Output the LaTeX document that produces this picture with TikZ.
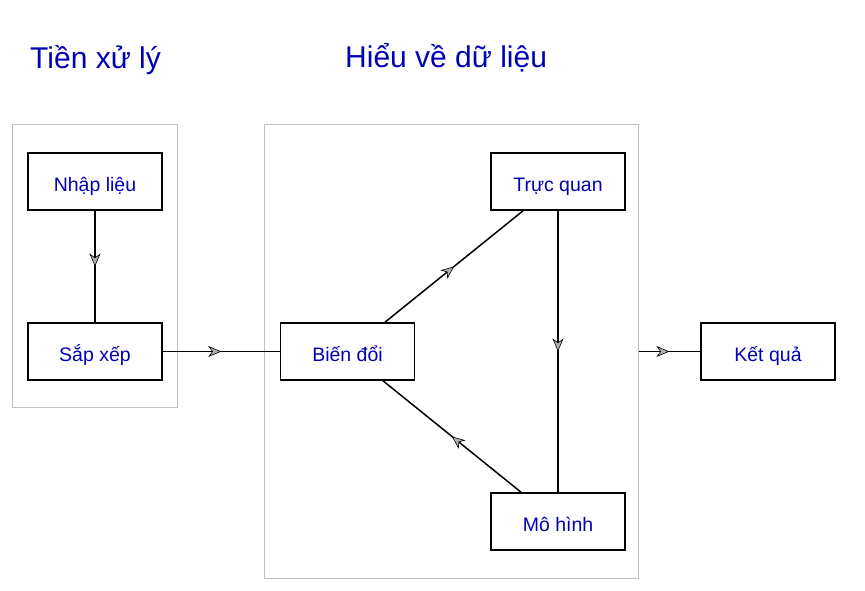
\documentclass[tikz,border=0pt]{standalone}
\usepackage{fontspec}
\setmainfont{Liberation Sans}
\usetikzlibrary{arrows.meta,decorations.markings}
\definecolor{textblue}{RGB}{0,0,180}
\definecolor{framegray}{RGB}{192,192,192}
\definecolor{tipgray}{RGB}{175,175,175}
\begin{document}
\begin{tikzpicture}[x=1pt, y=-1pt,
  box/.style={rectangle, draw, line width=1.6pt, minimum width=134pt, minimum height=57pt,
    text=textblue, font=\fontsize{19.5}{22}\selectfont, text height=19pt, text depth=0pt},
  frame/.style={rectangle, draw=framegray, line width=1pt},
  title/.style={anchor=base west, text=textblue, font=\fontsize{30}{34}\selectfont, inner sep=0pt},
  flow/.style={line width=1.5pt, postaction={decorate},
    decoration={markings, mark=at position 0.5 with {\arrow{Stealth[length=13pt, width=11pt, inset=4pt, fill=tipgray, line width=0.6pt]}}}}]
  \useasboundingbox (0,0) rectangle (865,591);
  % Frames
  \node (pre) [frame, minimum width=165pt, minimum height=282pt] at (94.5, 266) {};
  \node (und) [frame, minimum width=374pt, minimum height=453pt] at (451, 351.5) {};
  % Headers
  \node (tpre) [title] at (30, 69) {Tiền xử lý};
  \node (tund) [title] at (345, 68) {Hiểu về dữ liệu};
  % Nodes
  \node (nl) [box] at (95, 181.5) {Nhập liệu};
  \node (sx) [box] at (95, 351.5) {Sắp xếp};
  \node (bd) [box] at (347.5, 351.5) {Biến đổi};
  \node (tq) [box] at (558, 181.5) {Trực quan};
  \node (mh) [box] at (558, 521.5) {Mô hình};
  \node (kq) [box] at (768, 351.5) {Kết quả};
  % Arrows
  \draw[flow] (nl.south) -- (sx.north);
  \draw[flow] (sx.east) -- (bd.west);
  \draw[flow] ([xshift=37.5pt]bd.north) -- ([xshift=-35pt]tq.south);
  \draw[flow] (tq.south) -- (mh.north);
  \draw[flow] ([xshift=-37pt]mh.north) -- ([xshift=35.5pt]bd.south);
  \draw[flow] (und.east) -- (kq.west);
\end{tikzpicture}
\end{document}
